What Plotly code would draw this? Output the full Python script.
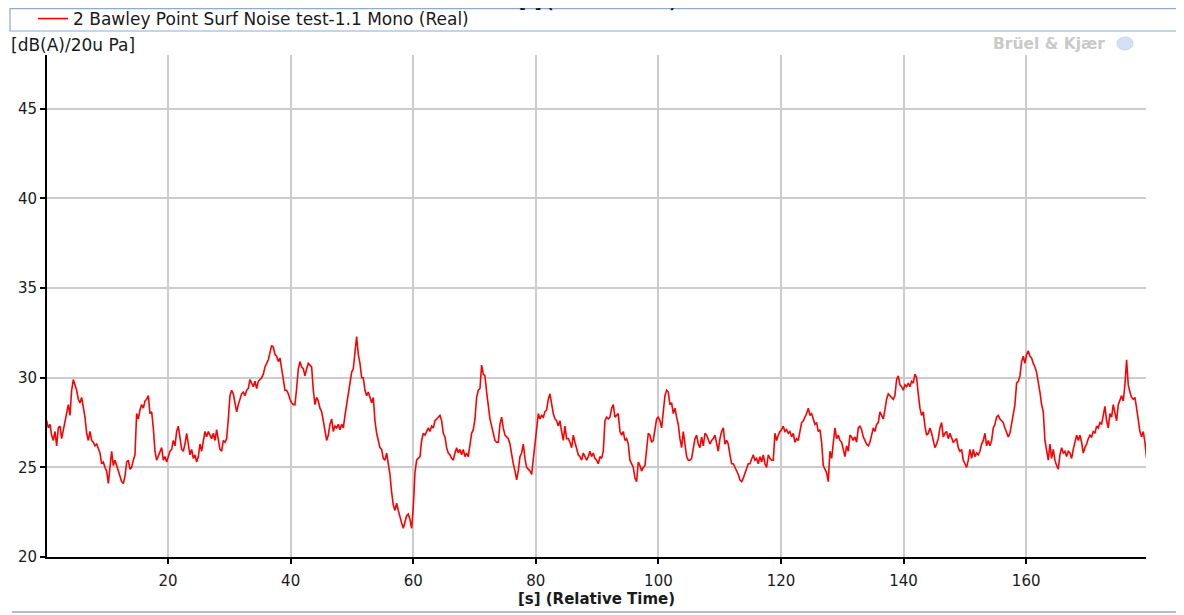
import plotly.graph_objects as go

# A-weighted sound level at a fixed sample step
sample_start = -0.08   # [s]
sample_step = 0.2719   # [s]

level_a = [27.6, 27.6, 27.2, 27.4, 26.8, 26.5, 27.0, 26.2, 27.2, 27.3, 26.6, 27.1, 27.4, 28.0, 28.5, 27.9,
           29.3, 29.9, 29.6, 29.3, 28.8, 28.6, 28.9, 28.3, 27.8, 26.9, 26.5, 27.0, 26.5, 26.4, 26.2, 26.3,
           26.0, 25.8, 25.2, 25.3, 25.0, 24.8, 24.1, 25.0, 25.9, 25.1, 25.4, 25.1, 24.8, 24.5, 24.2, 24.1,
           24.5, 25.3, 25.4, 24.9, 25.0, 25.4, 25.7, 28.0, 27.7, 28.2, 28.5, 28.3, 28.7, 28.8, 29.0, 28.0,
           28.1, 27.2, 25.9, 25.4, 25.6, 25.8, 26.1, 25.4, 25.6, 25.3, 25.6, 25.9, 26.0, 26.5, 26.2, 27.0,
           27.3, 26.5, 26.0, 25.9, 26.3, 26.9, 26.4, 25.7, 26.0, 25.5, 25.7, 25.3, 25.6, 26.3, 25.9, 26.5,
           27.0, 26.7, 27.0, 26.8, 26.6, 26.9, 26.5, 27.1, 26.6, 26.0, 25.9, 26.5, 26.4, 26.6, 27.7, 29.0,
           29.3, 29.1, 28.6, 28.1, 28.5, 28.8, 29.1, 29.2, 29.0, 29.3, 29.4, 29.9, 29.7, 29.5, 29.8, 29.4,
           29.8, 29.9, 30.0, 30.2]

level_b = [30.6, 30.8, 31.0, 31.4, 31.8, 31.7, 31.3, 31.2, 30.9, 31.1, 30.4, 29.7, 29.3, 29.3, 29.1, 28.8,
           28.6, 28.5, 28.5, 29.4, 30.5, 30.9, 30.6, 30.5, 30.1, 30.5, 30.8, 30.7, 30.6, 29.3, 28.5, 28.9,
           28.7, 28.3, 28.1, 27.6, 27.0, 26.5, 26.8, 27.4, 27.7, 27.0, 27.3, 27.2, 27.4, 27.1, 27.4, 27.2,
           27.9, 28.5, 29.1, 29.7, 30.3, 30.5, 31.3, 32.3, 31.3, 30.8, 30.0, 30.0, 29.3, 29.0, 29.2, 28.9,
           28.6, 28.9, 27.6, 26.9, 26.5, 26.1, 26.0, 25.5, 25.4, 25.8, 25.2, 24.6, 23.6, 22.9, 22.6, 23.0,
           22.6, 22.2, 21.9, 21.6, 22.0, 22.3, 22.4, 22.1, 21.6, 22.8, 24.7, 25.4, 25.5, 25.6, 26.5, 26.9,
           26.8, 27.0, 27.2, 27.0, 27.3, 27.2, 27.6, 27.7, 27.8, 27.9, 27.6, 26.9, 26.7, 26.1, 25.8, 25.7,
           25.5, 25.4, 25.8, 26.1, 25.8, 26.0, 25.7, 26.0, 25.6, 25.8, 25.6, 26.3, 26.9, 27.1, 27.7, 28.9,
           29.3, 29.4, 30.7, 30.2]

level_c = [30.1, 29.2, 28.3, 27.7, 27.3, 26.8, 26.5, 26.4, 26.4, 27.4, 27.8, 27.2, 26.8, 26.7, 26.6, 26.3,
           25.6, 25.2, 24.8, 24.3, 24.8, 25.6, 25.8, 26.3, 25.5, 25.0, 24.9, 24.8, 24.6, 25.5, 26.6, 27.4,
           28.0, 27.7, 27.9, 27.8, 28.1, 28.2, 28.8, 29.1, 28.5, 28.0, 27.7, 27.6, 27.3, 27.6, 27.0, 26.5,
           27.3, 26.6, 26.6, 26.4, 26.1, 26.8, 26.4, 26.1, 25.7, 25.6, 25.4, 25.8, 25.6, 25.4, 25.6, 25.9,
           25.6, 25.8, 25.5, 25.4, 25.2, 25.6, 25.5, 25.9, 27.6, 27.8, 27.7, 27.8, 28.3, 28.5, 27.8, 27.9,
           28.0, 27.0, 26.8, 27.0, 26.5, 26.6, 26.3, 25.4, 25.2, 25.0, 24.4, 24.2, 25.3, 25.1, 24.8, 25.0,
           25.1, 25.9, 26.9, 26.8, 26.4, 26.5, 27.0, 27.7, 27.8, 27.6, 27.2, 28.3, 29.0, 29.3, 29.2, 28.5,
           28.6, 28.0, 28.3, 27.8, 27.4, 26.6, 26.1, 27.0, 26.4, 25.6, 25.4, 25.4, 25.5, 26.1, 26.6, 26.8,
           26.3, 26.1, 26.7, 26.2]

level_d = [26.9, 26.8, 26.5, 26.3, 26.5, 26.6, 26.8, 26.3, 25.9, 26.6, 27.0, 27.2, 26.3, 26.5, 26.3, 25.7,
           25.2, 25.2, 25.0, 24.8, 24.6, 24.3, 24.2, 24.4, 24.7, 25.0, 25.2, 25.2, 25.5, 25.7, 25.4, 25.5,
           25.2, 25.6, 25.3, 25.7, 25.2, 25.0, 25.7, 25.5, 25.4, 25.4, 26.9, 26.5, 26.8, 27.0, 27.1, 27.3,
           27.0, 27.1, 26.9, 27.0, 26.7, 26.9, 26.4, 26.6, 26.5, 27.0, 27.5, 27.6, 27.8, 28.0, 28.3, 27.9,
           28.0, 27.7, 27.4, 27.5, 27.0, 27.1, 26.4, 25.1, 24.9, 24.7, 24.2, 25.9, 25.5, 26.2, 27.2, 26.6,
           26.8, 26.5, 26.4, 26.0, 25.6, 26.2, 25.9, 26.8, 26.7, 26.5, 26.7, 26.4, 27.2, 27.3, 27.1, 26.7,
           26.5, 26.3, 26.2, 26.4, 26.8, 27.2, 27.0, 27.4, 27.5, 28.1, 27.9, 27.7, 28.2, 28.8, 29.1, 29.0,
           28.9, 28.8, 29.0, 29.9, 30.1, 29.6, 29.5, 29.3, 29.6, 29.5, 29.7, 29.5, 29.8, 29.7, 30.2, 30.0,
           29.1, 28.3, 27.9, 28.1]

level_e = [27.3, 26.8, 26.9, 27.2, 26.9, 26.4, 26.1, 26.3, 26.6, 27.2, 27.5, 26.7, 26.9, 27.0, 26.6, 26.9,
           26.6, 26.4, 26.5, 26.6, 26.1, 25.9, 26.0, 25.4, 25.2, 25.0, 25.4, 26.0, 25.5, 26.0, 25.6, 25.8,
           25.7, 25.9, 26.3, 26.5, 26.9, 26.2, 26.5, 26.2, 26.5, 27.2, 27.4, 27.8, 27.9, 27.7, 27.6, 27.5,
           27.2, 27.0, 26.7, 26.9, 27.4, 28.0, 28.5, 29.7, 29.8, 30.1, 30.9, 31.2, 30.8, 31.3, 31.5, 31.2,
           31.1, 30.8, 30.6, 30.3, 29.8, 29.2, 28.5, 28.1, 26.5, 25.9, 25.4, 26.3, 25.5, 26.0, 25.4, 25.1,
           24.9, 25.7, 26.1, 25.8, 25.9, 25.6, 25.9, 25.8, 25.5, 26.0, 26.5, 26.8, 26.5, 26.8, 26.4, 25.8,
           26.1, 26.3, 26.6, 26.8, 26.7, 27.0, 26.9, 27.3, 27.2, 27.5, 27.4, 27.9, 28.4, 27.6, 27.2, 28.0,
           27.8, 28.5, 28.1, 27.6, 28.5, 28.8, 29.0, 28.7, 29.6, 31.0, 29.6, 29.2, 28.9, 28.8, 28.9, 28.3,
           27.7, 27.0, 26.7, 27.0, 26.4, 25.5]

level = level_a + level_b + level_c + level_d + level_e
time = [sample_start + i * sample_step for i in range(len(level))]

x_ticks = [20, 40, 60, 80, 100, 120, 140, 160]
y_ticks = [20, 25, 30, 35, 40, 45]
series_name = "2 Bawley Point Surf Noise test-1.1 Mono (Real)"

FONT = "DejaVu Sans"
INK = "#1a1a1a"
OFF = 8                      # page body margin around the plot div
W, H = 1184 - OFF, 615 - OFF
L, R, T, B = 47 - OFF, 38, 55 - OFF, 58
PW, PH = W - L - R, H - T - B


# helpers: window pixel -> paper coordinate
def px(X):
    return (X - OFF - L) / PW


def py(Y):
    return (H - B - (Y - OFF)) / PH


fig = go.Figure()
fig.add_trace(go.Scatter(x=time, y=level, mode="lines", name=series_name,
                         line=dict(color="#ff0000", width=1.6)))

fig.update_layout(
    width=W, height=H,
    margin=dict(l=L, r=R, t=T, b=B, pad=0, autoexpand=False),
    paper_bgcolor="white", plot_bgcolor="white",
    font=dict(family=FONT, size=15, color=INK),
    showlegend=True,
    legend=dict(x=px(33), y=py(19), xanchor="left", yanchor="middle",
                bgcolor="rgba(0,0,0,0)", borderwidth=0,
                font=dict(family=FONT, size=17, color=INK)),
)

fig.update_xaxes(
    range=[0.25, 179.55], tickvals=x_ticks, ticks="outside", ticklen=5, tickwidth=1.5,
    tickcolor="#000000", showline=True, linecolor="#000000", linewidth=2,
    showgrid=True, gridcolor="#cccccc", gridwidth=1.5, zeroline=False,
    ticklabelstandoff=4, tickfont=dict(family=FONT, size=15, color=INK),
    title=dict(text="<b>[s] (Relative Time)</b>", standoff=4,
               font=dict(family=FONT, size=15, color=INK)),
)
fig.update_yaxes(
    range=[20, 48], tickvals=y_ticks, ticks="outside", ticklen=5, tickwidth=1.5,
    tickcolor="#000000", showline=True, linecolor="#000000", linewidth=2,
    showgrid=True, gridcolor="#cccccc", gridwidth=1.5, zeroline=False,
    tickfont=dict(family=FONT, size=15, color=INK),
)

# legend frame stretching across the top
fig.add_shape(type="rect", xref="paper", yref="paper",
              x0=px(10), x1=px(1200), y0=py(31), y1=py(8.6),
              line=dict(color="#8eaad0", width=1.2), fillcolor="rgba(0,0,0,0)", layer="below")
# thin frame line at the bottom of the window
fig.add_shape(type="line", xref="paper", yref="paper",
              x0=px(12), x1=px(1200), y0=py(612), y1=py(612),
              line=dict(color="#8eaad0", width=1.5))

# unit label of y axis
fig.add_annotation(text="[dB(A)/20u Pa]", xref="paper", yref="paper",
                   x=px(9), y=py(45), xanchor="left", yanchor="middle",
                   showarrow=False, font=dict(family=FONT, size=17, color=INK))

# label at the very top edge of the window (mostly hidden, as in the source)
fig.add_annotation(text="<b>[s] (Relative Time)</b>", xref="paper", yref="paper",
                   x=px(597), y=py(3), xanchor="center", yanchor="middle",
                   showarrow=False, font=dict(family=FONT, size=15, color=INK))

# watermark
fig.add_annotation(text="<b>Brüel &amp; Kjær</b>", xref="paper", yref="paper",
                   x=px(1107), y=py(44), xanchor="right", yanchor="middle",
                   showarrow=False, font=dict(family=FONT, size=15.5, color="#c9c9c9"))
fig.add_shape(type="circle", xref="paper", yref="paper",
              x0=px(1117), x1=px(1133), y0=py(50), y1=py(37),
              line=dict(color="#c6d6ee", width=1), fillcolor="#d3e0f3")

fig.write_html("out.html")
